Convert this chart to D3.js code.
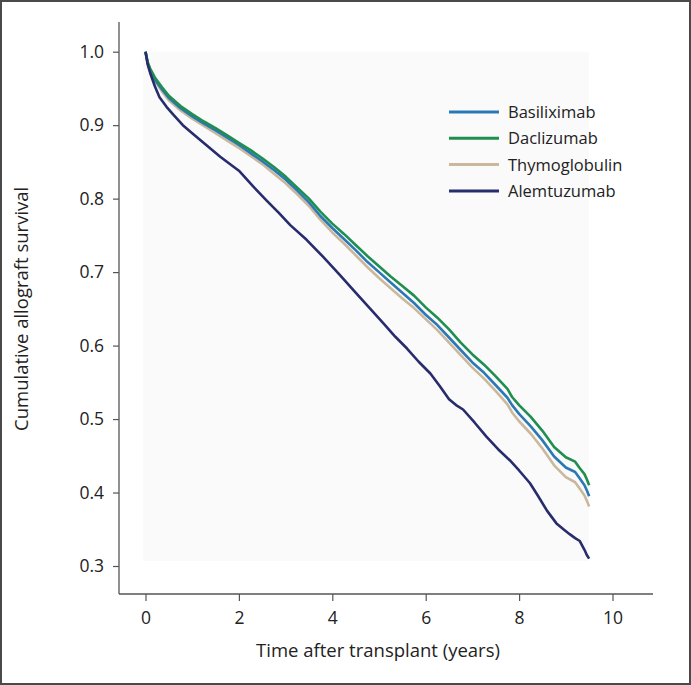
<!DOCTYPE html>
<html>
<head>
<meta charset="utf-8">
<script src="https://cdn.jsdelivr.net/npm/d3@7"></script>
<style>
  html, body { margin: 0; padding: 0; background: #fff; }
  svg { display: block; font-family: "Open Sans", "Noto Sans", sans-serif; }
</style>
</head>
<body>
<svg id="chart" width="691" height="685"></svg>
<script>
// ---- data ----
const seriesNames = ["Basiliximab", "Daclizumab", "Thymoglobulin", "Alemtuzumab"];
const seriesColors = ["#2a78b6", "#1f8e4e", "#cbb89c", "#272c6c"];

const daclizumabT = [0, 0.05, 0.1, 0.2, 0.35, 0.5, 0.75, 1.0, 1.25, 1.5, 1.75, 2.0, 2.25, 2.5, 2.75, 3.0, 3.25, 3.5, 3.75, 4.0, 4.25, 4.5, 4.75, 5.0, 5.25, 5.5, 5.75, 6.0, 6.25, 6.5, 6.75, 7.0, 7.25, 7.5, 7.75, 7.85, 8.0, 8.25, 8.5, 8.75, 9.0, 9.2, 9.3, 9.4, 9.45, 9.5];
const daclizumabS = [1.0, 0.985, 0.977, 0.965, 0.952, 0.940, 0.926, 0.915, 0.905, 0.896, 0.886, 0.876, 0.866, 0.855, 0.843, 0.830, 0.815, 0.800, 0.782, 0.766, 0.752, 0.737, 0.722, 0.708, 0.694, 0.681, 0.668, 0.652, 0.638, 0.622, 0.604, 0.588, 0.574, 0.558, 0.541, 0.530, 0.519, 0.503, 0.484, 0.462, 0.448, 0.442, 0.433, 0.425, 0.418, 0.410];

const basiliximabT = [0, 0.05, 0.1, 0.2, 0.35, 0.5, 0.75, 1.0, 1.25, 1.5, 1.75, 2.0, 2.25, 2.5, 2.75, 3.0, 3.25, 3.5, 3.75, 4.0, 4.25, 4.5, 4.75, 5.0, 5.25, 5.5, 5.75, 6.0, 6.25, 6.5, 6.75, 7.0, 7.25, 7.5, 7.75, 7.85, 8.0, 8.25, 8.5, 8.75, 9.0, 9.2, 9.3, 9.4, 9.45, 9.5];
const basiliximabS = [1.0, 0.984, 0.975, 0.962, 0.949, 0.937, 0.923, 0.912, 0.902, 0.893, 0.883, 0.873, 0.862, 0.851, 0.839, 0.826, 0.811, 0.795, 0.776, 0.760, 0.745, 0.730, 0.714, 0.700, 0.686, 0.672, 0.658, 0.642, 0.628, 0.611, 0.594, 0.577, 0.563, 0.546, 0.529, 0.519, 0.507, 0.490, 0.471, 0.449, 0.434, 0.428, 0.419, 0.410, 0.403, 0.395];

const thymoglobulinT = [0, 0.05, 0.1, 0.2, 0.35, 0.5, 0.75, 1.0, 1.25, 1.5, 1.75, 2.0, 2.25, 2.5, 2.75, 3.0, 3.25, 3.5, 3.75, 4.0, 4.25, 4.5, 4.75, 5.0, 5.25, 5.5, 5.75, 6.0, 6.25, 6.5, 6.75, 7.0, 7.25, 7.5, 7.75, 7.85, 8.0, 8.25, 8.5, 8.75, 9.0, 9.2, 9.3, 9.4, 9.45, 9.5];
const thymoglobulinS = [1.0, 0.982, 0.973, 0.960, 0.946, 0.934, 0.920, 0.909, 0.899, 0.889, 0.879, 0.869, 0.858, 0.847, 0.834, 0.821, 0.806, 0.790, 0.771, 0.754, 0.739, 0.723, 0.707, 0.692, 0.678, 0.664, 0.651, 0.636, 0.621, 0.604, 0.587, 0.570, 0.555, 0.538, 0.520, 0.509, 0.497, 0.480, 0.460, 0.437, 0.421, 0.414, 0.405, 0.396, 0.389, 0.381];

const alemtuzumabT = [0, 0.05, 0.1, 0.2, 0.3, 0.45, 0.6, 0.8, 1.0, 1.3, 1.6, 2.0, 2.3, 2.6, 2.85, 3.1, 3.45, 3.8, 4.15, 4.5, 4.8, 5.1, 5.35, 5.6, 5.85, 6.1, 6.3, 6.5, 6.65, 6.8, 7.05, 7.3, 7.55, 7.8, 8.0, 8.23, 8.4, 8.6, 8.8, 8.95, 9.09, 9.2, 9.3, 9.4, 9.45, 9.5];
const alemtuzumabS = [1.0, 0.982, 0.971, 0.953, 0.938, 0.925, 0.914, 0.900, 0.889, 0.873, 0.857, 0.838, 0.817, 0.797, 0.781, 0.764, 0.744, 0.721, 0.697, 0.672, 0.651, 0.630, 0.612, 0.596, 0.578, 0.562, 0.545, 0.527, 0.519, 0.513, 0.495, 0.476, 0.459, 0.444, 0.430, 0.413, 0.396, 0.375, 0.358, 0.350, 0.343, 0.338, 0.334, 0.322, 0.315, 0.310];

const xTicks = [0, 2, 4, 6, 8, 10];
const yTicks = [0.3, 0.4, 0.5, 0.6, 0.7, 0.8, 0.9, 1.0];
const xTitle = "Time after transplant (years)";
const yTitle = "Cumulative allograft survival";

// ---- build ----
const series = [
  { name: "Thymoglobulin", t: thymoglobulinT, s: thymoglobulinS },
  { name: "Basiliximab", t: basiliximabT, s: basiliximabS },
  { name: "Daclizumab", t: daclizumabT, s: daclizumabS },
  { name: "Alemtuzumab", t: alemtuzumabT, s: alemtuzumabS }
].map(d => ({ name: d.name, pts: d.t.map((t, i) => [t, d.s[i]]) }));

const color = d3.scaleOrdinal().domain(seriesNames).range(seriesColors);

const svg = d3.select("#chart");
const W = 691, H = 685;

// outer frame
svg.append("rect").attr("x", 1).attr("y", 1).attr("width", W - 2).attr("height", H - 2)
  .attr("fill", "#fff").attr("stroke", "#4a4a4a").attr("stroke-width", 2);

const x = d3.scaleLinear().domain([0, 10]).range([145.5, 612.5]);
const y = d3.scaleLinear().domain([0.3, 1.0]).range([566, 51.7]);

const axisX0 = 119, axisY0 = 594;

// faint plot background
svg.append("rect")
  .attr("x", x(-0.05)).attr("y", y(1.0))
  .attr("width", x(9.5) - x(-0.05)).attr("height", y(0.307) - y(1.0))
  .attr("fill", "#fafafa");

// axes
const gy = svg.append("g").attr("transform", `translate(${axisX0},0)`)
  .call(d3.axisLeft(y).tickValues(yTicks).tickFormat(d3.format(".1f")).tickSize(6).tickPadding(9));
const gx = svg.append("g").attr("transform", `translate(0,${axisY0})`)
  .call(d3.axisBottom(x).tickValues(xTicks).tickFormat(d3.format("d")).tickSize(7).tickPadding(11));
[gy, gx].forEach(g => {
  g.select(".domain").remove();
  g.selectAll(".tick line").attr("stroke", "#555").attr("stroke-width", 1.2);
  g.selectAll(".tick text").attr("fill", "#222").style("font-size", "17.5px")
    .style("font-family", "'Open Sans', 'Noto Sans', sans-serif");
});
svg.append("line").attr("x1", axisX0).attr("x2", axisX0).attr("y1", 22).attr("y2", axisY0)
  .attr("stroke", "#555").attr("stroke-width", 1.3);
svg.append("line").attr("x1", axisX0).attr("x2", 653).attr("y1", axisY0).attr("y2", axisY0)
  .attr("stroke", "#555").attr("stroke-width", 1.3);

// titles
svg.append("text").attr("x", 378).attr("y", 657).attr("text-anchor", "middle")
  .attr("fill", "#222").style("font-size", "18.5px").text(xTitle);
svg.append("text").attr("transform", `translate(28,${y(0.65)}) rotate(-90)`)
  .attr("text-anchor", "middle").attr("fill", "#222").style("font-size", "18.5px").text(yTitle);

// lines
const line = d3.line().x(d => x(d[0])).y(d => y(d[1])).curve(d3.curveLinear);
svg.append("g").selectAll("path").data(series).join("path")
  .attr("d", d => line(d.pts))
  .attr("fill", "none")
  .attr("stroke", d => color(d.name))
  .attr("stroke-width", 2.6)
  .attr("stroke-linejoin", "round");

// legend
const leg = svg.append("g").attr("transform", "translate(449,112)");
const items = leg.selectAll("g").data(seriesNames).join("g")
  .attr("transform", (d, i) => `translate(0,${i * 26.3})`);
items.append("line").attr("x1", 0).attr("x2", 50).attr("y1", 0).attr("y2", 0)
  .attr("stroke", d => color(d)).attr("stroke-width", 3);
items.append("text").attr("x", 59).attr("y", 0).attr("dy", "0.36em")
  .attr("fill", "#222").style("font-size", "16.5px").text(d => d);
</script>
</body>
</html>
